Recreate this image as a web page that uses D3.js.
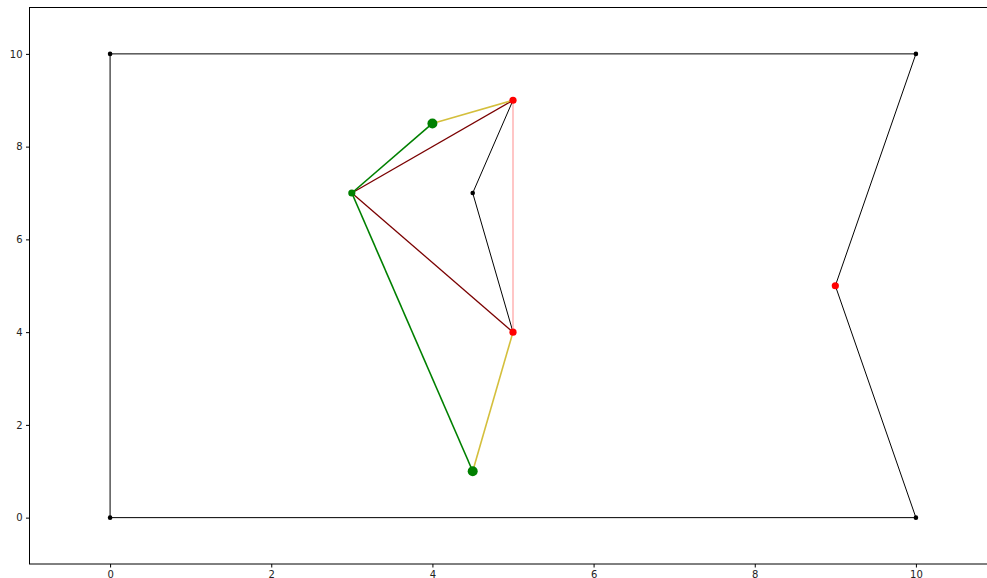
<!DOCTYPE html>
<html>
<head>
<meta charset="utf-8">
<script src="https://cdn.jsdelivr.net/npm/d3@7"></script>
<style>
  body { margin: 0; background: #fff; overflow: hidden; }
  .tick text { font-family: "DejaVu Sans", sans-serif; font-size: 10px; fill: #222; }
</style>
</head>
<body>
<div id="viz"></div>
<script>
// outline polygon
var outline = [[0, 0], [0, 10], [10, 10], [9, 5], [10, 0], [0, 0]];
var innerPath = [[5, 9], [4.5, 7], [5, 4]];

// segments: [x1, y1, x2, y2, colour, width]
var segments = [
  [5, 9, 5, 4, "#ffa8a8", 1.3],
  [3, 7, 5, 9, "#7a0000", 1.3],
  [3, 7, 5, 4, "#7a0000", 1.3],
  [3, 7, 4, 8.5, "#008000", 1.6],
  [3, 7, 4.5, 1, "#008000", 1.6],
  [4, 8.5, 5, 9, "#d4bf3c", 1.6],
  [4.5, 1, 5, 4, "#d4bf3c", 1.6]
];

// points: [x, y, colour, radius]
var points = [
  [0, 0, "black", 2.3], [0, 10, "black", 2.3], [10, 10, "black", 2.3], [10, 0, "black", 2.3],
  [4.5, 7, "black", 2.3],
  [9, 5, "red", 3.6], [5, 9, "red", 3.6], [5, 4, "red", 3.6],
  [3, 7, "green", 3.6], [4, 8.5, "green", 5], [4.5, 1, "green", 5]
];

var xTicks = [0, 2, 4, 6, 8, 10];
var yTicks = [0, 2, 4, 6, 8, 10];

var width = 987, height = 578;

var svg = d3.select("#viz").append("svg")
    .attr("width", width)
    .attr("height", height);

var x = d3.scaleLinear().domain([-1, 11]).range([29.5, 996.5]);
var y = d3.scaleLinear().domain([-1, 11]).range([564, 7.5]);

var line = d3.line().x(function(d) { return x(d[0]); }).y(function(d) { return y(d[1]); });

svg.append("g")
    .attr("transform", "translate(0," + 564 + ")")
    .call(d3.axisBottom(x).tickValues(xTicks).tickSize(3.5).tickPadding(3.5).tickFormat(d3.format("d")))
    .call(function(g) { g.select(".domain").remove(); });

svg.append("g")
    .attr("transform", "translate(" + 29.5 + ",0)")
    .call(d3.axisLeft(y).tickValues(yTicks).tickSize(3.5).tickPadding(3.5).tickFormat(d3.format("d")))
    .call(function(g) { g.select(".domain").remove(); });

// frame
svg.append("rect")
    .attr("x", 29.5).attr("y", 7.5)
    .attr("width", 967).attr("height", 556.5)
    .attr("fill", "none").attr("stroke", "black").attr("stroke-width", 1);

svg.append("path").datum(outline)
    .attr("d", line).attr("fill", "none")
    .attr("stroke", "black").attr("stroke-width", 1);

svg.append("path").datum(innerPath)
    .attr("d", line).attr("fill", "none")
    .attr("stroke", "black").attr("stroke-width", 1);

svg.selectAll("line.seg")
  .data(segments)
  .enter().append("line")
    .attr("class", "seg")
    .attr("x1", function(d) { return x(d[0]); })
    .attr("y1", function(d) { return y(d[1]); })
    .attr("x2", function(d) { return x(d[2]); })
    .attr("y2", function(d) { return y(d[3]); })
    .attr("stroke", function(d) { return d[4]; })
    .attr("stroke-width", function(d) { return d[5]; });

svg.selectAll("circle.pt")
  .data(points)
  .enter().append("circle")
    .attr("class", "pt")
    .attr("cx", function(d) { return x(d[0]); })
    .attr("cy", function(d) { return y(d[1]); })
    .attr("r", function(d) { return d[3]; })
    .attr("fill", function(d) { return d[2]; });
</script>
</body>
</html>
